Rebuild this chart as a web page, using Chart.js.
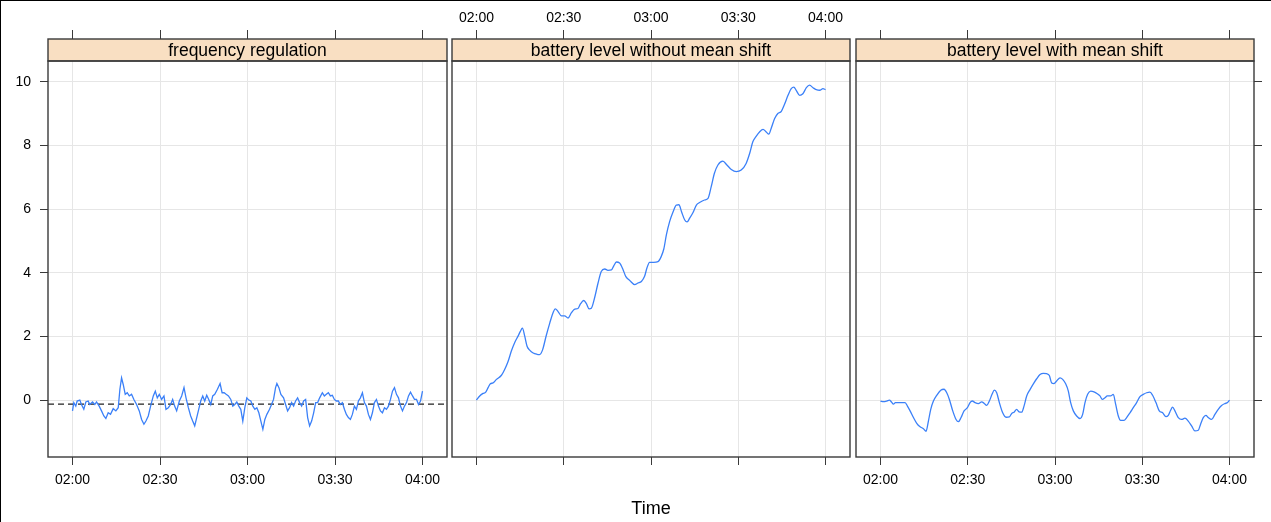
<!DOCTYPE html>
<html>
<head>
<meta charset="utf-8">
<script src="https://cdn.jsdelivr.net/npm/chart.js@4.4.0/dist/chart.umd.min.js"></script>
<style>
  html, body { margin: 0; padding: 0; background: #fff; }
  #fig { position: relative; width: 1271px; height: 522px; overflow: hidden; }
  #fig canvas { position: absolute; left: 0; top: 0; }
  #frame { position: absolute; left: 0; top: 0; width: 1271px; height: 522px;
           box-sizing: border-box; border-top: 1.5px solid #000; border-left: 1.5px solid #000; pointer-events: none; }
</style>
</head>
<body>
<div id="fig">
  <canvas id="panel1" width="1271" height="522"></canvas>
  <canvas id="panel2" width="1271" height="522"></canvas>
  <canvas id="panel3" width="1271" height="522"></canvas>
  <div id="frame"></div>
</div>
<script>
// Time is measured in minutes after 02:00.
const TIME_TICKS = [0, 30, 60, 90, 120];
const TIME_LABELS = ['02:00', '02:30', '03:00', '03:30', '04:00'];
const LEVEL_TICKS = [0, 2, 4, 6, 8, 10];
const PANEL_TITLES = ['frequency regulation', 'battery level without mean shift', 'battery level with mean shift'];
const AXIS_TITLE = 'Time';

// frequency regulation signal
const FREQ_T = [0.0,0.45,1.13,1.59,2.51,3.08,3.88,4.57,5.37,5.94,6.86,7.66,8.23,9.15,9.95,10.75,11.44,12.24,13.04,13.96,
  14.87,15.68,16.25,16.82,17.39,18.08,18.77,19.45,20.25,21.05,21.97,22.89,23.69,24.49,25.18,25.98,26.78,27.7,28.39,29.07,
  29.76,30.56,31.36,32.05,32.85,33.65,34.34,35.02,35.71,36.63,37.43,38.23,38.92,39.72,40.52,41.21,41.9,42.59,43.27,43.96,
  44.65,45.33,46.02,46.71,47.4,48.08,48.77,49.69,50.6,51.29,51.98,52.67,53.47,54.27,54.96,55.64,56.33,57.02,57.7,58.39,
  59.08,59.77,60.45,61.14,61.83,62.52,63.2,63.89,64.58,65.27,65.95,66.64,67.56,68.24,68.93,69.62,70.08,70.77,71.45,72.37,
  73.06,73.75,74.43,75.12,75.81,76.49,77.18,77.87,78.56,79.24,79.93,80.62,81.3,81.99,82.68,83.37,84.05,84.74,85.66,86.35,
  87.03,87.72,88.41,89.09,89.78,90.47,91.15,91.84,92.53,93.22,93.9,94.59,95.28,95.96,96.65,97.34,98.03,98.71,99.4,100.09,
  100.77,101.46,102.15,102.83,103.52,104.21,104.9,105.58,106.27,106.96,107.64,108.33,109.02,109.71,110.39,111.08,111.77,112.45,113.14,113.83,
  114.52,115.2,115.89,116.58,117.26,117.95,118.64,119.32,120.0];
const FREQ_V = [-0.34,-0.08,-0.19,-0.03,0.00,-0.14,-0.29,-0.06,-0.03,-0.14,-0.06,-0.14,-0.06,-0.19,-0.34,-0.50,-0.58,-0.40,-0.45,-0.27,
  -0.34,-0.24,0.34,0.70,0.49,0.18,0.23,0.13,0.18,0.02,-0.14,-0.34,-0.61,-0.76,-0.66,-0.50,-0.19,0.13,0.28,0.07,
  0.18,0.02,0.13,-0.29,-0.24,-0.14,0.02,-0.19,-0.34,-0.03,0.13,0.39,0.07,-0.24,-0.50,-0.66,-0.81,-0.55,-0.29,-0.03,
  0.13,-0.03,0.15,0.02,-0.14,0.13,0.18,0.34,0.52,0.23,0.23,0.18,0.13,0.02,-0.19,-0.14,-0.06,-0.19,-0.29,-0.66,
  -0.24,0.07,0.00,-0.03,-0.19,-0.29,-0.24,-0.40,-0.66,-0.92,-0.61,-0.45,-0.29,-0.14,0.02,0.39,0.52,0.39,0.18,0.07,
  -0.14,-0.34,-0.24,-0.08,-0.19,-0.03,0.07,-0.08,-0.19,-0.03,0.02,-0.55,-0.81,-0.66,-0.40,-0.08,-0.08,0.07,0.23,0.13,
  0.18,0.23,0.13,0.15,0.02,-0.03,-0.03,-0.14,-0.08,-0.29,-0.45,-0.55,-0.61,-0.45,-0.19,-0.29,-0.03,0.07,0.23,-0.08,
  -0.19,-0.45,-0.61,-0.40,-0.08,0.02,-0.19,-0.34,-0.40,-0.24,-0.29,-0.19,0.02,0.28,0.39,0.18,0.07,-0.19,-0.34,-0.19,
  -0.08,0.13,0.25,0.13,0.02,0.02,-0.14,-0.03,0.28];
const FREQ_MEAN = -0.13;

// battery level without mean shift
const BATT_T = [0,1.13,2.28,3.2,4.0,4.8,5.7,6.9,8.6,9.7,10.9,12.0,13.2,14.3,15.1,15.8,16.6,17.4,18.3,19.5,
  20.8,21.7,22.7,24.0,25.2,26.3,27.1,28.0,29.2,30.3,31.5,32.6,33.8,34.9,35.8,36.9,37.8,38.7,39.5,40.6,
  41.8,42.9,44.1,45.2,46.4,47.2,48.1,49.2,50.4,51.3,52.7,54.4,55.5,56.7,57.8,58.6,59.5,60.9,62.4,63.5,
  64.4,65.3,66.4,67.6,68.7,69.6,70.5,71.6,72.4,73.3,74.4,75.6,76.7,78.4,79.6,80.7,81.8,83.0,84.7,86.1,
  87.6,89.3,91.0,92.7,93.9,95.0,96.2,97.3,98.5,99.6,100.5,101.3,102.5,103.6,104.8,105.9,107.1,108.2,109.1,109.9,
  111.1,112.2,113.4,114.5,115.7,116.8,118.0,119.1,120.0];
const BATT_V = [0,0.13,0.21,0.25,0.39,0.51,0.54,0.65,0.78,0.96,1.22,1.54,1.82,2.01,2.16,2.26,2.01,1.69,1.57,1.48,
  1.44,1.43,1.57,2.03,2.42,2.74,2.87,2.79,2.65,2.65,2.58,2.74,2.86,2.88,3.03,3.13,3.03,2.87,2.89,3.21,
  3.68,4.04,4.12,4.08,4.09,4.22,4.34,4.31,4.10,3.89,3.76,3.63,3.68,3.73,3.89,4.15,4.33,4.33,4.35,4.51,
  4.75,5.20,5.61,5.92,6.13,6.14,5.92,5.66,5.60,5.72,5.89,6.13,6.21,6.29,6.34,6.71,7.13,7.39,7.51,7.39,
  7.25,7.18,7.23,7.44,7.75,8.12,8.30,8.43,8.51,8.43,8.36,8.54,8.85,9.01,9.08,9.30,9.58,9.79,9.84,9.74,
  9.58,9.63,9.82,9.90,9.82,9.76,9.74,9.79,9.76];

// battery level with mean shift
const SHIFT_T = [0,1.03,2.18,3.09,3.78,4.47,5.15,6.18,7.33,8.47,9.28,10.19,11.34,12.48,13.63,14.77,15.69,16.49,17.29,18.21,
  19.35,20.73,21.87,22.79,23.7,24.85,25.99,26.8,27.71,28.74,29.89,30.8,31.6,32.52,33.67,34.81,35.61,36.53,37.44,38.36,
  39.16,39.96,40.88,42.02,43.17,44.31,45.12,45.92,46.83,47.64,48.55,49.35,50.27,51.41,52.56,53.7,54.85,55.99,57.14,58.06,
  58.86,59.66,60.57,61.72,62.64,63.67,64.58,65.38,66.3,67.44,68.59,69.5,70.31,71.22,72.25,73.4,74.54,75.46,76.26,77.18,
  77.98,79.13,80.04,80.84,81.76,82.56,83.71,84.62,85.77,86.91,88.06,89.2,90.35,91.49,92.64,93.55,94.7,95.84,96.99,98.13,
  98.94,99.74,100.42,101.22,102.37,103.51,104.66,105.8,106.95,108.09,109.24,110.04,110.96,111.87,112.68,113.82,114.97,116.11,117.26,118.4,
  119.32,120.0];
const SHIFT_V = [-0.03,-0.05,-0.03,0.00,-0.06,-0.13,-0.08,-0.08,-0.08,-0.08,-0.19,-0.34,-0.55,-0.73,-0.84,-0.90,-0.98,-0.66,-0.29,-0.03,
  0.15,0.31,0.34,0.23,0.02,-0.34,-0.61,-0.68,-0.55,-0.34,-0.24,-0.08,-0.03,-0.08,-0.11,-0.06,-0.10,-0.17,-0.03,0.18,
  0.31,0.23,-0.08,-0.40,-0.54,-0.53,-0.42,-0.38,-0.29,-0.37,-0.38,-0.19,0.13,0.33,0.51,0.67,0.80,0.84,0.83,0.77,
  0.54,0.52,0.60,0.70,0.65,0.51,0.28,-0.08,-0.34,-0.50,-0.58,-0.45,-0.08,0.18,0.28,0.26,0.20,0.13,0.02,0.07,
  0.13,0.13,0.18,-0.13,-0.50,-0.64,-0.64,-0.55,-0.40,-0.24,-0.08,0.11,0.18,0.23,0.25,0.15,-0.08,-0.34,-0.40,-0.52,
  -0.48,-0.32,-0.22,-0.34,-0.55,-0.61,-0.57,-0.66,-0.81,-0.97,-0.95,-0.76,-0.55,-0.48,-0.55,-0.61,-0.45,-0.29,-0.17,-0.11,
  -0.08,0.00];

// shared axis limits (data range padded by 7% on each side)
const X_MIN = -8.4, X_MAX = 128.4;
const Y_MIN = -1.79, Y_MAX = 10.66;

const FONT = "'Liberation Sans', Arial, Helvetica, sans-serif";
const LINE_BLUE = '#3b80f8';
const GRID = '#e6e6e6';
const TICK = '#3a3a3a';
const CANVAS_W = 1271, CANVAS_H = 522;
const AREA_TOP = 61, AREA_BOTTOM = 457, STRIP_H = 22;
const TICK_FONT = { size: 14 };

Chart.defaults.font.family = FONT;
Chart.defaults.color = '#000';

const toPoints = (ts, vs) => ts.map((t, i) => ({ x: t, y: vs[i] }));

// Strip header above each panel plus the panel frame.
const stripPlugin = {
  id: 'panelStrip',
  afterDraw(chart, args, opts) {
    const { ctx, chartArea: a } = chart;
    const top = a.top - STRIP_H;
    ctx.save();
    ctx.fillStyle = '#f9dfc2';
    ctx.fillRect(a.left, top, a.right - a.left, STRIP_H);
    ctx.strokeStyle = TICK;
    ctx.lineWidth = 1.4;
    ctx.strokeRect(a.left, top, a.right - a.left, STRIP_H);
    ctx.strokeRect(a.left, a.top, a.right - a.left, a.bottom - a.top);
    ctx.fillStyle = '#000';
    ctx.font = '17.5px ' + FONT;
    ctx.textAlign = 'center';
    ctx.textBaseline = 'middle';
    ctx.fillText(opts.title, (a.left + a.right) / 2, top + STRIP_H / 2 + 1);
    ctx.restore();
  }
};

function makePanel(id, cfg) {
  const tickList = arr => scale => { scale.ticks = arr.map(v => ({ value: v })); };
  const timeLabel = v => TIME_LABELS[TIME_TICKS.indexOf(v)];
  const scales = {
    x: {
      type: 'linear', position: 'bottom', min: X_MIN, max: X_MAX,
      afterBuildTicks: tickList(TIME_TICKS),
      afterFit: s => { s.height = CANVAS_H - AREA_BOTTOM; },
      grid: { color: GRID, tickColor: TICK, tickLength: 8, lineWidth: 1 },
      border: { display: false },
      ticks: { display: cfg.bottomLabels, callback: timeLabel, font: TICK_FONT, padding: 7, maxRotation: 0, autoSkip: false },
      title: { display: cfg.timeTitle, text: AXIS_TITLE, font: { size: 18 }, color: '#000', padding: { top: 0, bottom: 2 } }
    },
    xTop: {
      type: 'linear', position: 'top', min: X_MIN, max: X_MAX,
      afterBuildTicks: tickList(TIME_TICKS),
      afterFit: s => { s.height = AREA_TOP; },
      grid: { drawOnChartArea: false, tickColor: TICK, tickLength: STRIP_H + 9 },
      border: { display: false },
      ticks: { display: cfg.topLabels, callback: timeLabel, font: TICK_FONT, padding: 3, maxRotation: 0, autoSkip: false }
    },
    y: {
      type: 'linear', position: cfg.yPos, min: Y_MIN, max: Y_MAX,
      afterBuildTicks: tickList(LEVEL_TICKS),
      afterFit: s => { s.width = cfg.yWidth; },
      grid: { color: GRID, tickColor: TICK, tickLength: 8, drawTicks: cfg.yTicks },
      border: { display: false },
      ticks: { display: cfg.yLabels, font: TICK_FONT, padding: 9 }
    }
  };
  return new Chart(document.getElementById(id), {
    type: 'line',
    data: { datasets: cfg.datasets },
    options: {
      responsive: false, animation: false, devicePixelRatio: 1,
      layout: { padding: { left: cfg.padLeft, right: cfg.padRight, top: 0, bottom: 0 } },
      scales,
      plugins: { legend: { display: false }, tooltip: { enabled: false }, panelStrip: { title: cfg.title } },
      elements: { point: { radius: 0 } }
    },
    plugins: [stripPlugin]
  });
}

const seriesStyle = smooth => ({
  borderColor: LINE_BLUE, borderWidth: 1.3, pointRadius: 0, fill: false,
  tension: smooth ? 0.4 : 0, cubicInterpolationMode: smooth ? 'monotone' : 'default'
});

makePanel('panel1', {
  title: PANEL_TITLES[0], yPos: 'left', yWidth: 48, yTicks: true, yLabels: true,
  padLeft: 0, padRight: CANVAS_W - 447, topLabels: false, bottomLabels: true, timeTitle: false,
  datasets: [
    Object.assign({ data: toPoints(FREQ_T, FREQ_V) }, seriesStyle(false)),
    { data: [{ x: X_MIN, y: FREQ_MEAN }, { x: X_MAX, y: FREQ_MEAN }], borderColor: '#222', borderWidth: 1.2,
      borderDash: [6, 4], pointRadius: 0, fill: false }
  ]
});

makePanel('panel2', {
  title: PANEL_TITLES[1], yPos: 'left', yWidth: 0, yTicks: false, yLabels: false,
  padLeft: 452, padRight: CANVAS_W - 850, topLabels: true, bottomLabels: false, timeTitle: true,
  datasets: [Object.assign({ data: toPoints(BATT_T, BATT_V) }, seriesStyle(true))]
});

makePanel('panel3', {
  title: PANEL_TITLES[2], yPos: 'right', yWidth: 17, yTicks: true, yLabels: false,
  padLeft: 856, padRight: 0, topLabels: false, bottomLabels: true, timeTitle: false,
  datasets: [Object.assign({ data: toPoints(SHIFT_T, SHIFT_V) }, seriesStyle(true))]
});
</script>
</body>
</html>
